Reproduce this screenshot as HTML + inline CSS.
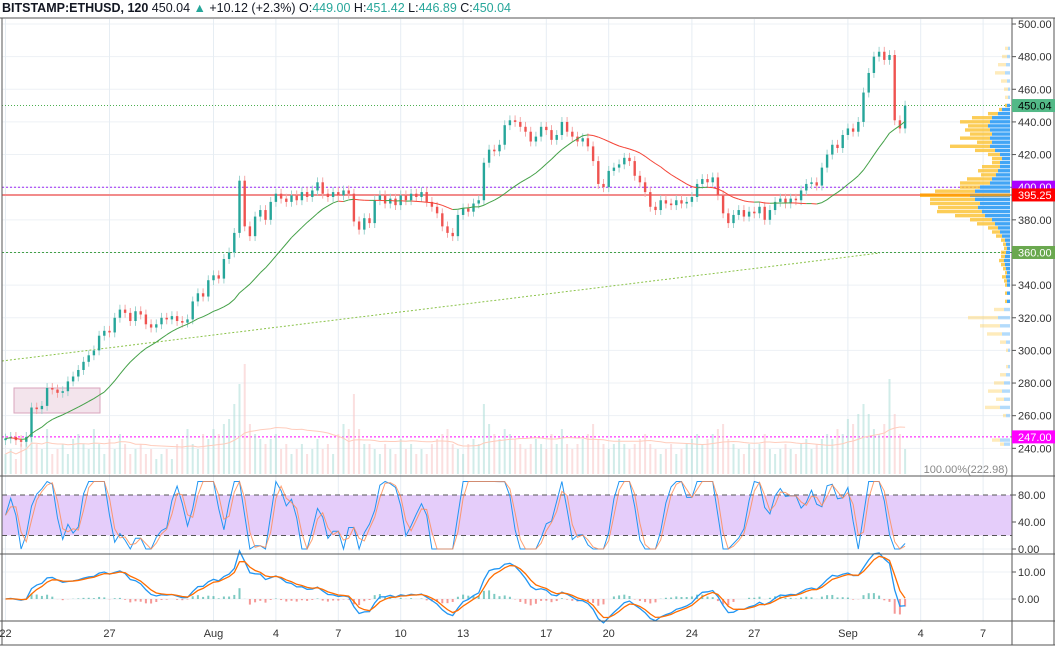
<!DOCTYPE html>
<html><head><meta charset="utf-8">
<style>
html,body{margin:0;padding:0;background:#fff;}
svg{display:block;font-family:"Liberation Sans",sans-serif;}
</style></head>
<body>
<svg id="chart" width="1055" height="646" viewBox="0 0 1055 646">
<g id="grid"></g>
<g id="overlays"></g>
<g id="profile"></g>
<g id="vol"></g>
<g id="candles"></g>
<g id="ma"></g>
<g id="stoch"></g>
<g id="macd"></g>
<g id="axes"></g>
<text x="2" y="12" font-size="12.5" fill="#131722"><tspan font-weight="bold">BITSTAMP:ETHUSD, 120</tspan> 450.04 <tspan fill="#26a69a">▲</tspan> +10.12 (+2.3%) O:<tspan fill="#26a69a">449.00</tspan> H:<tspan fill="#26a69a">451.42</tspan> L:<tspan fill="#26a69a">446.89</tspan> C:<tspan fill="#26a69a">450.04</tspan></text>
</svg>
<script>
const closes = [246,247,245,244,247,265,264,266,277,276,274,275,281,284,288,293,297,300,309,312,311,320,325,323,318,324,322,316,314,316,320,319,321,318,317,319,330,335,333,343,346,344,356,360,372,404,376,370,382,386,380,391,396,393,391,395,392,397,394,398,403,396,394,397,395,398,396,379,374,381,378,392,395,390,393,389,395,392,396,394,397,391,388,384,376,372,370,383,387,385,390,392,415,423,422,426,438,441,440,437,434,428,431,437,435,429,432,440,434,431,428,430,425,416,402,400,410,412,414,418,416,407,403,397,388,386,392,390,389,392,390,391,394,402,405,403,406,395,384,378,383,386,382,385,384,388,380,386,391,393,390,393,392,398,402,403,401,412,420,426,424,432,436,434,440,458,470,480,483,478,481,441,436,450];
const volumes = [20,25,15,30,35,60,30,25,45,20,25,30,20,35,40,30,25,45,30,20,35,25,40,30,20,25,30,20,25,15,20,25,15,30,35,45,30,25,40,35,45,40,50,55,70,90,110,50,40,35,30,35,40,25,30,20,25,30,20,25,35,25,30,20,40,50,45,80,45,30,30,25,20,30,25,20,35,25,30,20,25,20,30,35,40,45,30,25,20,30,35,30,70,50,40,35,45,40,35,30,25,30,35,30,25,40,30,45,30,25,30,35,40,50,35,30,25,30,35,30,25,30,35,40,30,25,20,25,30,20,25,30,35,40,30,35,40,45,50,35,30,25,20,30,25,30,40,25,20,25,30,25,20,30,35,25,30,35,40,35,45,40,55,50,60,70,60,45,40,50,95,60,40,25];
const priceTicks = [500,480,460,440,420,400,380,360,340,320,300,280,260,240];
const stochTicks = [80,40,0];
const macdTicks = [10,0];
const timeLabels = ["22","27","Aug","4","7","10","13","17","20","24","27","Sep","4","7"];
const timeBars = [0,20,40,52,64,76,88,104,116,132,144,162,176,188];
const profilePrices = [485,480,475,470,465,460,455,450,447.5,445,442.5,440,437.5,435,432.5,430,427.5,425,422.5,420,417.5,415,412.5,410,407.5,405,402.5,400,397.5,395,392.5,390,387.5,385,382.5,380,377.5,375,372.5,370,367.5,365,362.5,360,357.5,355,352.5,350,347.5,345,342.5,340,335,330,325,320,315,310,305,300,290,285,280,275,270,265,260,245,242.5];
const profileBuy = [2,3,4,5,3,2,2,3,8,12,18,20,22,20,18,20,18,20,15,10,8,10,10,12,14,18,20,30,35,40,35,30,32,28,25,18,15,12,10,8,5,4,3,4,5,6,5,4,3,4,3,3,3,3,6,12,10,8,4,2,2,4,6,8,6,10,4,10,6];
const profileSell = [3,5,8,10,6,4,3,2,3,10,20,30,20,25,22,30,15,40,20,12,10,8,18,20,15,25,30,20,40,50,45,50,40,45,30,22,18,10,8,6,4,3,3,5,4,5,4,3,2,4,3,2,2,2,10,30,20,15,6,2,2,6,10,14,8,15,3,8,4];

const NS="http://www.w3.org/2000/svg";
function el(tag,attrs,parent){const e=document.createElementNS(NS,tag);for(const k in attrs)e.setAttribute(k,attrs[k]);parent.appendChild(e);return e;}
const xB=i=>5.5+i*5.2;
const yP=p=>24+(500-p)*1.632;
const yS=v=>549-v*0.675;
const yM=m=>599-m*2.7;
const yV=v=>474-v;
const G=id=>document.getElementById(id);
const AX=1012;

const grid=G('grid');
priceTicks.forEach(p=>{const l=el('line',{x1:2,x2:AX,y1:yP(p),y2:yP(p),stroke:'#edf1f5','stroke-width':1},grid);

});
[yS(40),yS(0)].forEach(y=>{const l=el('line',{x1:2,x2:AX,y1:y,y2:y,stroke:'#edf1f5'},grid);

});
macdTicks.forEach(m=>{const l=el('line',{x1:2,x2:AX,y1:yM(m),y2:yM(m),stroke:'#edf1f5'},grid);

});
timeBars.forEach(b=>{const l=el('line',{x1:xB(b),x2:xB(b),y1:19,y2:621,stroke:'#e6edf3'},grid);

});

const ov=G('overlays');
let r=el('rect',{x:14,y:388,width:86,height:25,fill:'#f3e4ec',stroke:'#d9a5bd','stroke-width':1},ov);


let t=el('line',{x1:2,y1:361,x2:880,y2:253,stroke:'#8bc34a','stroke-width':1,'stroke-dasharray':'2,2'},ov);


const hl=[[450.04,'#4caf50','1,2',1,'last-price-line'],[400,'#9c27f5','2,2',1,'level-400-line'],[395.25,'#f28b8b','',2,'level-395-line'],[360,'#43a047','2,2',1,'level-360-line'],[247,'#ff00ff','2,2',1,'level-247-line']];
hl.forEach(h=>{const l=el('line',{x1:2,x2:AX,y1:yP(h[0]),y2:yP(h[0]),stroke:h[1],'stroke-width':h[3]},ov);if(h[2])l.setAttribute('stroke-dasharray',h[2]);

});

const pg=G('profile');
profilePrices.forEach((p,i)=>{const y=yP(p)-1.8;const op=(p>450||p<330)?0.4:1;
const b=el('rect',{x:AX-2-profileBuy[i],y:y,width:profileBuy[i],height:3.4,fill:'#42a5f5',opacity:op},pg);


const s=el('rect',{x:AX-2-profileBuy[i]-profileSell[i],y:y,width:profileSell[i],height:3.4,fill:'#fbc02d',opacity:op*0.8},pg);

});
let poc=el('rect',{x:920,y:yP(395.25)-1.5,width:90,height:3,fill:'#ff9800',opacity:0.8},pg);



const vg=G('vol');
volumes.forEach((v,i)=>{const up=i==0||closes[i]>=closes[i-1];
const b=el('rect',{x:xB(i)-1,y:yV(v),width:2,height:v,fill:up?'#b2dfdb':'#f8c9c9',opacity:0.6},vg);

});
let vpts=[];volumes.forEach((v,i)=>{const s=volumes.slice(Math.max(0,i-19),i+1);vpts.push(xB(i)+','+yV(s.reduce((a,b)=>a+b,0)/s.length));});
let vm=el('polyline',{points:vpts.join(' '),fill:'none',stroke:'#ffccbc','stroke-width':1},vg);



const cg=G('candles');
closes.forEach((c,i)=>{const o=i==0?c-1:closes[i-1];const up=c>=o;const col=up?'#26a69a':'#ef5350';
const hi=Math.max(o,c)+3,lo=Math.min(o,c)-3;
const w=el('line',{x1:xB(i),x2:xB(i),y1:yP(hi),y2:yP(lo),stroke:up?'#9fd3cf':'#f4a9a8','stroke-width':1},cg);


const b=el('rect',{x:xB(i)-1.2,y:yP(Math.max(o,c)),width:2.4,height:Math.max(1,Math.abs(yP(o)-yP(c))),fill:col},cg);

});

const mg=G('ma');const ma=closes.map((c,i)=>{const s=closes.slice(Math.max(0,i-19),i+1);return s.reduce((a,b)=>a+b,0)/s.length;});
for(let i=1;i<ma.length;i++){const l=el('line',{x1:xB(i-1),y1:yP(ma[i-1]),x2:xB(i),y2:yP(ma[i]),stroke:ma[i]>=ma[i-1]?'#43a047':'#f44336','stroke-width':1},mg);

}

const sg=G('stoch');
let band=el('rect',{x:2,y:yS(80),width:AX-2,height:yS(20)-yS(80),fill:'#e5cdfa'},sg);


[80,20].forEach(v=>{const l=el('line',{x1:2,x2:AX,y1:yS(v),y2:yS(v),stroke:'#555','stroke-dasharray':'5,4'},sg);

});
const rsiP=5;const rsi=closes.map((c,i)=>{let g=0,l=0;for(let j=Math.max(1,i-rsiP+1);j<=i;j++){const d=closes[j]-closes[j-1];if(d>0)g+=d;else l-=d;}return g+l==0?50:100*g/(g+l);});
const st=rsi.map((v,i)=>{const s=rsi.slice(Math.max(0,i-5),i+1);const mn=Math.min(...s),mx=Math.max(...s);return mx==mn?50:100*(v-mn)/(mx-mn);});
const sma=(a,n)=>a.map((v,i)=>{const s=a.slice(Math.max(0,i-n+1),i+1);return s.reduce((x,y)=>x+y,0)/s.length;});
const K=sma(st,2),D=sma(K,2);
let kl=el('polyline',{points:K.map((v,i)=>xB(i)+','+yS(v)).join(' '),fill:'none',stroke:'#2196f3','stroke-width':1},sg);


let dl=el('polyline',{points:D.map((v,i)=>xB(i)+','+yS(v)).join(' '),fill:'none',stroke:'#ff8a50','stroke-width':1,opacity:0.8},sg);



const mcg=G('macd');
const ema=(a,n)=>{const k=2/(n+1);let e=a[0];return a.map(v=>e=v*k+e*(1-k));};
const e1=ema(closes,4),e2=ema(closes,9);const macd=e1.map((v,i)=>v-e2[i]);const sig=ema(macd,3);
macd.forEach((m,i)=>{const h=m-sig[i];const b=el('rect',{x:xB(i)-1,y:Math.min(yM(0),yM(h)),width:2,height:Math.abs(yM(h)-yM(0)),fill:h>=0?'#26a69a':'#ef5350',opacity:0.6},mcg);

});
let ml=el('polyline',{points:macd.map((v,i)=>xB(i)+','+yM(v)).join(' '),fill:'none',stroke:'#2196f3','stroke-width':1.3},mcg);


let sl=el('polyline',{points:sig.map((v,i)=>xB(i)+','+yM(v)).join(' '),fill:'none',stroke:'#ff6d00','stroke-width':1.3},mcg);



const ag=G('axes');
[[0,18,1055,18],[2,18,2,645],[AX,18,AX,645],[0,476,1055,476],[0,554,1055,554],[0,621,1055,621],[0,645,1055,645],[1054,18,1054,645]].forEach(a=>{const l=el('line',{x1:a[0],y1:a[1],x2:a[2],y2:a[3],stroke:'#555','stroke-width':1},ag);

});
function ytick(y,label,name){const l=el('line',{x1:AX,x2:AX+4,y1:y,y2:y,stroke:'#555'},ag);


const tx=el('text',{x:1018,y:y+4,'font-size':11,fill:'#333'},ag);tx.textContent=label;

}
priceTicks.forEach(p=>ytick(yP(p),p.toFixed(2),'price-axis'));
stochTicks.forEach(v=>ytick(yS(v),v.toFixed(2),'stoch-axis'));
macdTicks.forEach(v=>ytick(yM(v),v.toFixed(2),'macd-axis'));
const tags=[[450.04,'#53b987','#000','last-price-tag'],[400,'#aa00ff','#fff','level-400-tag'],[395.25,'#ff0000','#fff','level-395-tag'],[360,'#6aa84f','#fff','level-360-tag'],[247,'#ff00ff','#fff','level-247-tag']];
tags.forEach(tg=>{const y=yP(tg[0]);const rr=el('rect',{x:AX,y:y-6.5,width:43,height:13,fill:tg[1]},ag);


const tx=el('text',{x:1018,y:y+4,'font-size':11,fill:tg[2]},ag);tx.textContent=tg[0].toFixed(2);

});
timeLabels.forEach((s,i)=>{const tx=el('text',{x:xB(timeBars[i]),y:637,'font-size':11,fill:'#333','text-anchor':'middle'},ag);tx.textContent=s;

});
let pct=el('text',{x:1008,y:473,'font-size':11,fill:'#888','text-anchor':'end'},ag);pct.textContent='100.00%(222.98)';


</script>
</body></html>
